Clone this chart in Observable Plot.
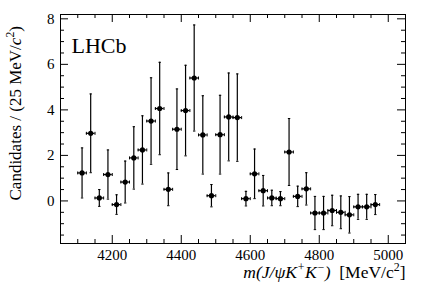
<!DOCTYPE html>
<html><head><meta charset="utf-8">
<script src="https://cdn.jsdelivr.net/npm/d3@7"></script>
<script src="https://cdn.jsdelivr.net/npm/@observablehq/plot@0.6"></script>
<style>body{margin:0;background:#fff}</style>
</head><body><div id="chart"></div>
<script>
const mass = [4112.5,4137.5,4162.5,4187.5,4212.5,4237.5,4262.5,4287.5,4312.5,4337.5,4362.5,4387.5,4412.5,4437.5,4462.5,4487.5,4512.5,4537.5,4562.5,4587.5,4612.5,4637.5,4662.5,4687.5,4712.5,4737.5,4762.5,4787.5,4812.5,4837.5,4862.5,4887.5,4912.5,4937.5,4962.5];
const counts = [1.23,2.97,0.13,1.16,-0.16,0.83,1.89,2.24,3.51,4.06,0.51,3.15,3.97,5.40,2.90,0.23,2.91,3.69,3.66,0.10,1.19,0.45,0.13,0.10,2.15,0.20,0.53,-0.53,-0.53,-0.42,-0.50,-0.61,-0.26,-0.26,-0.16];
const errors = [1.10,1.73,0.37,1.08,0.43,0.92,1.37,1.50,1.90,2.03,0.72,1.77,1.99,2.33,1.72,0.49,1.73,1.93,1.92,0.32,1.09,0.67,0.34,0.31,1.47,0.45,0.71,0.73,0.73,0.67,0.72,0.80,0.55,0.55,0.44];
const halfBin = 12.5;
const xMajor = [4200,4400,4600,4800,5000];
const xMinor = [4050,4100,4150,4250,4300,4350,4450,4500,4550,4650,4700,4750,4850,4900,4950,5050];
const yMajor = [0,2,4,6,8];
const yMinor = [-1.5,-1,-0.5,0.5,1,1.5,2.5,3,3.5,4.5,5,5.5,6.5,7,7.5];
const xTitle = "m(J/ψK+K−)  [MeV/c2]";
const yTitle = "Candidates / (25 MeV/c2)";
const experiment = "LHCb";

const data = mass.map((m,i)=>({m, v:counts[i], e:errors[i]}));
const W=427,H=290,ML=60,MR=22,MT=14,MB=47;
const iw=W-ML-MR, ih=H-MT-MB;
const majL=8, minL=4;
const XFS = 17.5, YFS = 17;
const capH = {draw(ctx,size){const r=Math.sqrt(size/Math.PI);ctx.moveTo(-r,0);ctx.lineTo(r,0);}};
const capV = {draw(ctx,size){const r=Math.sqrt(size/Math.PI);ctx.moveTo(0,-r);ctx.lineTo(0,r);}};

const svg = Plot.plot({
  width:W, height:H, marginLeft:ML, marginRight:MR, marginTop:MT, marginBottom:MB,
  x:{domain:[4050,5050]},
  y:{domain:[-1.87,8.19]},
  style:{fontFamily:"Liberation Serif", background:"white", color:"black", overflow:"visible"},
  marks:[
    Plot.frame({stroke:"black", strokeWidth:1}),
    Plot.ruleX(xMajor,{x:d=>d, insetTop:ih-majL, stroke:"black"}),
    Plot.ruleX(xMajor,{x:d=>d, insetBottom:ih-majL, stroke:"black"}),
    Plot.ruleX(xMinor,{x:d=>d, insetTop:ih-minL, stroke:"black"}),
    Plot.ruleX(xMinor,{x:d=>d, insetBottom:ih-minL, stroke:"black"}),
    Plot.ruleY(yMajor,{y:d=>d, insetRight:iw-majL, stroke:"black"}),
    Plot.ruleY(yMajor,{y:d=>d, insetLeft:iw-majL, stroke:"black"}),
    Plot.ruleY(yMinor,{y:d=>d, insetRight:iw-minL, stroke:"black"}),
    Plot.ruleY(yMinor,{y:d=>d, insetLeft:iw-minL, stroke:"black"}),
    Plot.axisX({ticks:xMajor, tickSize:0, tickPadding:6, fontSize:15, tickFormat:d=>String(d), label:null}),
    Plot.axisY({ticks:yMajor, tickSize:0, tickPadding:6, fontSize:15, tickFormat:d=>String(d), label:null}),
    Plot.ruleX(data,{x:"m", y1:d=>d.v-d.e, y2:d=>d.v+d.e, stroke:"black", strokeWidth:1.2}),
    Plot.ruleY(data,{y:"v", x1:d=>d.m-halfBin, x2:d=>d.m+halfBin, stroke:"black", strokeWidth:1.2}),
    Plot.dot(data,{x:"m", y:d=>d.v-d.e, symbol:capH, r:1.2, stroke:"black", strokeWidth:1}),
    Plot.dot(data,{x:"m", y:d=>d.v+d.e, symbol:capH, r:1.2, stroke:"black", strokeWidth:1}),
    Plot.dot(data,{x:d=>d.m-halfBin, y:"v", symbol:capV, r:1.5, stroke:"black", strokeWidth:1}),
    Plot.dot(data,{x:d=>d.m+halfBin, y:"v", symbol:capV, r:1.5, stroke:"black", strokeWidth:1}),
    Plot.dot(data,{x:"m", y:"v", r:2.6, fill:"black", stroke:"none"}),
    Plot.text([experiment],{text:d=>d, frameAnchor:"top-left", textAnchor:"start", lineAnchor:"top", dx:11, dy:23, fontSize:22}),
    Plot.text([xTitle],{text:d=>d, frameAnchor:"bottom-right", textAnchor:"end", lineAnchor:"middle", dx:0, dy:29, fontSize:XFS}),
    Plot.text([yTitle],{text:d=>d, frameAnchor:"top-left", textAnchor:"start", lineAnchor:"middle", rotate:-90, dx:-44.5, dy:186, fontSize:YFS})
  ]
});

function rich(key, parts, fs){
  svg.querySelectorAll("text").forEach(t=>{
    if (t.textContent !== key) return;
    while (t.firstChild) t.removeChild(t.firstChild);
    t.style.whiteSpace = "pre";
    let shift = 0;
    parts.forEach(p=>{
      const s = document.createElementNS("http://www.w3.org/2000/svg","tspan");
      s.textContent = p.t;
      if (p.i) s.setAttribute("font-style","italic");
      const target = p.sup ? -fs*0.42 : 0;
      if (target !== shift){ s.setAttribute("dy", String(target-shift)); shift = target; }
      if (p.sup) s.setAttribute("font-size", String(fs*0.68));
      t.appendChild(s);
    });
  });
}
rich(xTitle,[{t:"m(J/ψK",i:1},{t:"+",i:1,sup:1},{t:"K",i:1},{t:"−",i:1,sup:1},{t:")",i:1},{t:"  [MeV/c"},{t:"2",sup:1},{t:"]"}],XFS);
rich(yTitle,[{t:"Candidates / (25 MeV/"},{t:"c",i:1},{t:"2",sup:1},{t:")"}],YFS);
document.getElementById("chart").appendChild(svg);
</script>
</body></html>
